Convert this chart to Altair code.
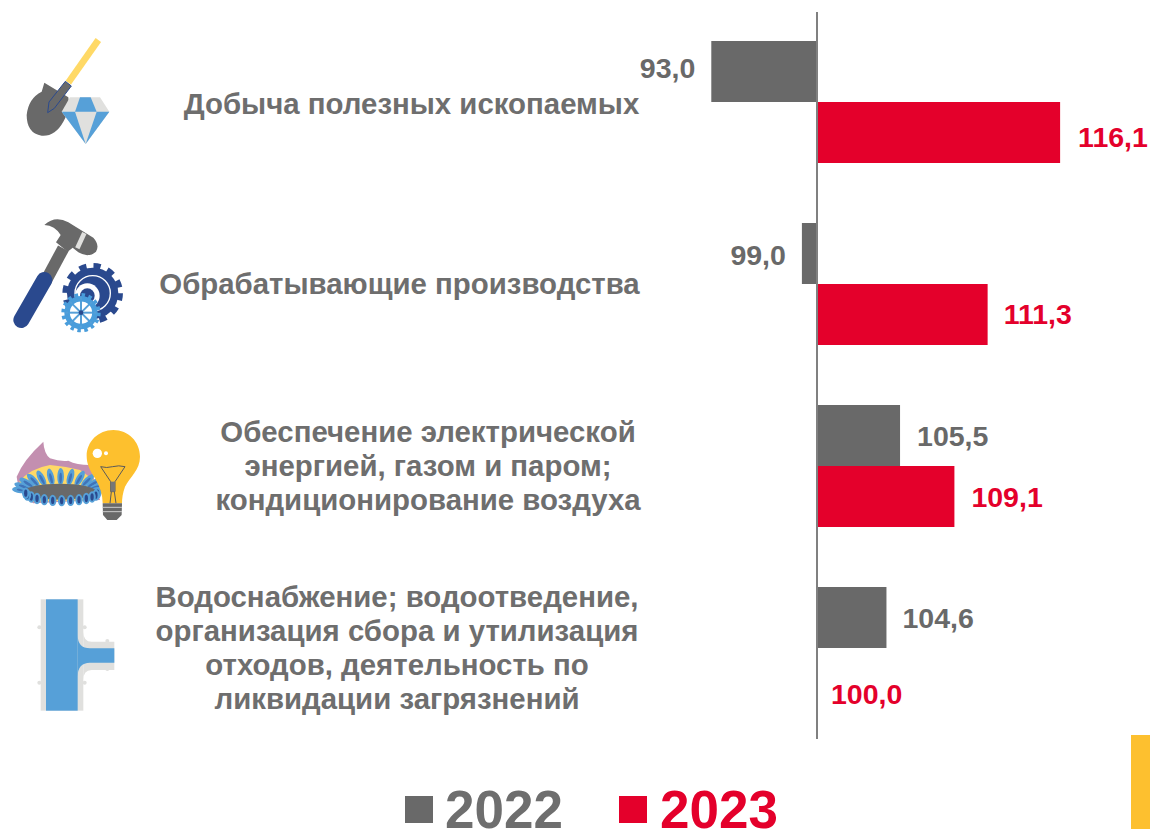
import base64
import math
import altair as alt
import pandas as pd

# ---- data ----
categories = [
    "Добыча полезных ископаемых",
    "Обрабатывающие производства",
    "Обеспечение электрической\nэнергией, газом и паром;\nкондиционирование воздуха",
    "Водоснабжение; водоотведение,\nорганизация сбора и утилизация\nотходов, деятельность по\nликвидации загрязнений",
]
years = ["2022", "2023"]
values_2022 = [93.0, 99.0, 105.5, 104.6]
values_2023 = [116.1, 111.3, 109.1, 100.0]

GREY = "#696969"
RED = "#E4002B"
TEXT = "#6E6E6E"
NAVY = "#2B4A8E"
BLUE = "#56A0D8"
LIGHT = "#E0E0DE"
YELLOW = "#FFD966"
ORANGE = "#FDC02F"
FONT = "Liberation Sans"

W, H = 1142, 821
PX_PER_UNIT = 15.1
BASE_PX = 809

rows = []
for i, c in enumerate(categories):
    rows.append({"cat": c, "year": "2022", "value": values_2022[i], "base": 100})
    rows.append({"cat": c, "year": "2023", "value": values_2023[i], "base": 100})
df = pd.DataFrame(rows)
df["label"] = df["value"].map(lambda v: f"{v:.1f}".replace(".", ","))

x_scale = alt.Scale(domain=[100 - BASE_PX / PX_PER_UNIT, 100 + (W - BASE_PX) / PX_PER_UNIT], range=[0, W], nice=False, zero=False)
y_scale = alt.Scale(domain=categories, range=[3, 731], paddingInner=0.33, paddingOuter=0.165)
y_enc = alt.Y("cat:N", scale=y_scale, axis=None)
off_enc = alt.YOffset("year:N", scale=alt.Scale(domain=years))
col_scale = alt.Scale(domain=years, range=[GREY, RED])

bars = alt.Chart(df).mark_bar(size=61, cornerRadius=0).encode(
    x=alt.X("value:Q", scale=x_scale, axis=None),
    x2="base:Q",
    y=y_enc,
    yOffset=off_enc,
    color=alt.Color("year:N", scale=col_scale, legend=None),
)

axis_line = alt.Chart(pd.DataFrame({"v": [100]})).mark_rule(color="#808080", strokeWidth=2).encode(
    x=alt.X("v:Q", scale=x_scale, axis=None),
    y=alt.value(4),
    y2=alt.value(731),
)

# value labels: nudges (dx, dy) as placed on the original slide
nudges = {
    ("2022", 0): (-16, -3), ("2023", 0): (18, 6),
    ("2022", 1): (-16, 2), ("2023", 1): (16, 1),
    ("2022", 2): (17, 1), ("2023", 2): (17, 2),
    ("2022", 3): (16, 1), ("2023", 3): (14, 17),
}
value_layers = []
for (yr, idx), (dx, dy) in nudges.items():
    sub = df[(df.year == yr) & (df.cat == categories[idx])]
    value_layers.append(
        alt.Chart(sub).mark_text(
            font=FONT, fontWeight="bold", fontSize=28.5, baseline="middle",
            align="right" if dx < 0 else "left", dx=dx, dy=dy,
        ).encode(
            x=alt.X("value:Q", scale=x_scale, axis=None),
            y=y_enc, yOffset=off_enc,
            text="label:N",
            color=alt.Color("year:N", scale=col_scale, legend=None),
        )
    )

# category captions
caption_layers = []
for cat, cx, dy in zip(categories, [403.5, 391.5, 420, 389], [3, 1, -33, -50]):
    caption_layers.append(
        alt.Chart(pd.DataFrame({"cat": [cat]})).mark_text(
            font=FONT, fontWeight="bold", fontSize=29.4, color=TEXT, align="center",
            baseline="middle", lineBreak="\n", lineHeight=34, dy=dy,
        ).encode(x=alt.value(cx), y=y_enc, text="cat:N")
    )

# legend + decoration
def box(x0, y0, x1, y1, color):
    return alt.Chart(pd.DataFrame({"k": [0]})).mark_rect(color=color).encode(
        x=alt.value(x0), x2=alt.value(x1), y=alt.value(y0), y2=alt.value(y1)
    )

def legend_text(txt, x, color):
    return alt.Chart(pd.DataFrame({"t": [txt]})).mark_text(
        font=FONT, fontWeight="bold", fontSize=53, color=color, align="left", baseline="alphabetic",
    ).encode(x=alt.value(x), y=alt.value(820), text="t:N")

legend_layers = [
    box(397, 788, 425, 815, GREY), legend_text(years[0], 437, TEXT),
    box(611, 788, 639, 815, RED), legend_text(years[1], 652, RED),
    box(1123, 727, 1142, 821, ORANGE),
]

# ---- icons (inline SVG, drawn in 3x-crop coordinates) ----
def gear(cx, cy, r, teeth, color):
    c = 2 * math.pi * r
    d = c / (teeth * 2)
    return (f'<circle cx="{cx}" cy="{cy}" r="{r}" fill="{color}"/>'
            f'<circle cx="{cx}" cy="{cy}" r="{r}" fill="none" stroke="{color}" stroke-width="{r*0.36:.1f}" '
            f'stroke-dasharray="{d:.2f} {d:.2f}"/>')

icon1 = f'''
<path d="M133 188 L205 232 Q212 270 190 305 Q165 350 125 347 Q80 340 80 285 Q85 235 125 215 Z" fill="{GREY}"/>
<line x1="295" y1="60" x2="205" y2="188" stroke="{YELLOW}" stroke-width="20" stroke-linecap="butt"/>
<path d="M196 184 L214 198 L163 265 L143 278 L147 246 Z" fill="{GREY}" stroke="{NAVY}" stroke-width="3"/>
<path d="M210 232 L300 232 L328 275 L257 372 L185 275 Z" fill="{LIGHT}"/>
<path d="M240 232 L272 232 L290 275 L225 275 Z" fill="{BLUE}"/>
<path d="M185 275 L225 275 L257 372 Z" fill="{BLUE}"/>
<path d="M328 275 L290 275 L257 372 Z" fill="{BLUE}"/>
'''

spokes = "".join(
    f'<line x1="243" y1="323" x2="{243+46*math.cos(a*math.pi/4):.1f}" y2="{323+46*math.sin(a*math.pi/4):.1f}" stroke="{BLUE}" stroke-width="6"/>'
    for a in range(8)
)
icon2 = f'''
<line x1="135" y1="232" x2="190" y2="130" stroke="{GREY}" stroke-width="36"/>
<line x1="133" y1="225" x2="64" y2="345" stroke="{NAVY}" stroke-width="48" stroke-linecap="round"/>
<path d="M133 60 Q165 30 205 52 L280 98 Q300 120 288 140 Q265 160 235 142 L218 128 L203 140 L168 112 L182 90 Q165 62 133 60 Z" fill="{GREY}"/>
<line x1="253" y1="84" x2="232" y2="130" stroke="{LIGHT}" stroke-width="14"/>
{gear(278, 265, 77, 12, NAVY)}
<circle cx="278" cy="265" r="53" fill="none" stroke="#FFFFFF" stroke-width="4"/>
<circle cx="262" cy="272" r="37" fill="#FFFFFF"/>
<circle cx="262" cy="272" r="22" fill="{NAVY}"/>
{gear(243, 323, 50, 16, "#4A9DDB")}
<circle cx="243" cy="323" r="36" fill="#FFFFFF"/>
{spokes}
<circle cx="243" cy="323" r="36" fill="none" stroke="#4A9DDB" stroke-width="5"/>
<circle cx="243" cy="323" r="7" fill="{NAVY}"/>
'''

petals = ""
for k in range(13):
    t = math.pi * (1.02 + k * 0.97 / 12)
    px, py = 180 + 118 * math.cos(t), 212 + 42 * math.sin(t)
    ang = math.degrees(t) + 90
    petals += (f'<ellipse cx="{px:.1f}" cy="{py:.1f}" rx="10" ry="26" fill="{BLUE}" transform="rotate({ang:.0f} {px:.1f} {py:.1f})"/>'
               f'<ellipse cx="{px:.1f}" cy="{py+4:.1f}" rx="4" ry="16" fill="#3F73B8" transform="rotate({ang:.0f} {px:.1f} {py:.1f})"/>')
lower = ""
for k in range(13):
    t = math.pi * (0.02 + k * 0.96 / 12)
    px, py = 185 + 108 * math.cos(t), 218 + 24 * math.sin(t)
    lower += (f'<ellipse cx="{px:.1f}" cy="{py:.1f}" rx="11" ry="17" fill="{BLUE}"/>'
              f'<ellipse cx="{px:.1f}" cy="{py:.1f}" rx="5" ry="11" fill="{NAVY}"/>')
icon3 = f'''
<path d="M130 65 Q132 100 150 115 Q180 125 205 122 Q230 135 270 135 L300 240 L100 250 Q55 220 50 170 Q70 120 130 65 Z" fill="#C38FB0"/>
<path d="M58 185 Q90 145 150 135 Q200 140 240 150 L295 190 L290 240 L90 245 Q62 215 58 185 Z" fill="{YELLOW}"/>
{petals}
<ellipse cx="180" cy="215" rx="108" ry="24" fill="{GREY}"/>
{lower}
<path d="M340 30 C385 30 420 65 420 110 C420 150 390 170 375 200 C368 220 366 235 366 250 L308 250 C308 225 300 200 285 175 C268 150 260 130 260 108 C260 65 295 30 340 30 Z" fill="{ORANGE}"/>
<circle cx="292" cy="100" r="14" fill="#FFFFFF"/>
<circle cx="318" cy="100" r="6" fill="#FFFFFF"/>
<path d="M302 140 Q320 145 338 140 Q356 135 375 140 L345 185 L345 215 L332 215 L332 185 Z" fill="none" stroke="#5A5A5A" stroke-width="3"/>
<rect x="332" y="185" width="13" height="30" fill="#777777"/>
<line x1="334" y1="215" x2="330" y2="250" stroke="#5A5A5A" stroke-width="3"/>
<line x1="343" y1="215" x2="348" y2="250" stroke="#5A5A5A" stroke-width="3"/>
<path d="M308 250 L366 250 L365 285 L350 300 L322 300 L309 285 Z" fill="{GREY}"/>
<line x1="308" y1="262" x2="366" y2="262" stroke="#CCCCCC" stroke-width="3"/>
<line x1="308" y1="275" x2="366" y2="275" stroke="#CCCCCC" stroke-width="3"/>
'''

icon4 = f'''
<rect x="62" y="28" width="128" height="334" fill="{LIGHT}"/>
<path d="M190 125 Q190 155 215 155 L283 155 L283 240 L215 240 Q190 240 190 270 Z" fill="{LIGHT}"/>
<circle cx="58" cy="112" r="6" fill="{LIGHT}"/><circle cx="58" cy="278" r="6" fill="{LIGHT}"/>
<circle cx="194" cy="112" r="6" fill="{LIGHT}"/><circle cx="194" cy="278" r="6" fill="{LIGHT}"/>
<circle cx="262" cy="153" r="6" fill="{LIGHT}"/><circle cx="262" cy="237" r="6" fill="{LIGHT}"/>
<rect x="78" y="28" width="95" height="334" fill="{BLUE}"/>
<path d="M173 135 Q173 175 210 175 L283 175 L283 218 L210 218 Q173 218 173 260 Z" fill="{BLUE}"/>
'''

def icon_layer(svg, px, py, w, h):
    doc = (f'<svg xmlns="http://www.w3.org/2000/svg" width="{w}" height="{h}" viewBox="0 0 {w*3} {h*3}">'
           f'<g filter="url(#b)"><defs><filter id="b"><feGaussianBlur stdDeviation="1.2"/></filter></defs>{svg}</g></svg>')
    url = "data:image/svg+xml;base64," + base64.b64encode(doc.encode()).decode()
    return alt.Chart(pd.DataFrame({"u": [url]})).mark_image(
        width=w, height=h, align="left", baseline="top"
    ).encode(x=alt.value(px - 8), y=alt.value(py - 8), url="u:N")

icons = [
    icon_layer(icon1, 0, 20, 150, 140),
    icon_layer(icon2, 0, 205, 150, 140),
    icon_layer(icon3, 0, 420, 150, 110),
    icon_layer(icon4, 20, 590, 110, 130),
]

chart = alt.layer(
    *icons, *caption_layers, bars, axis_line, *value_layers, *legend_layers
).properties(
    width=W, height=H, padding=0, autosize=alt.AutoSizeParams(type="none"), background="#FFFFFF",
).configure_view(stroke=None)

chart.save("out.html", embed_options={"renderer": "svg", "actions": False})
